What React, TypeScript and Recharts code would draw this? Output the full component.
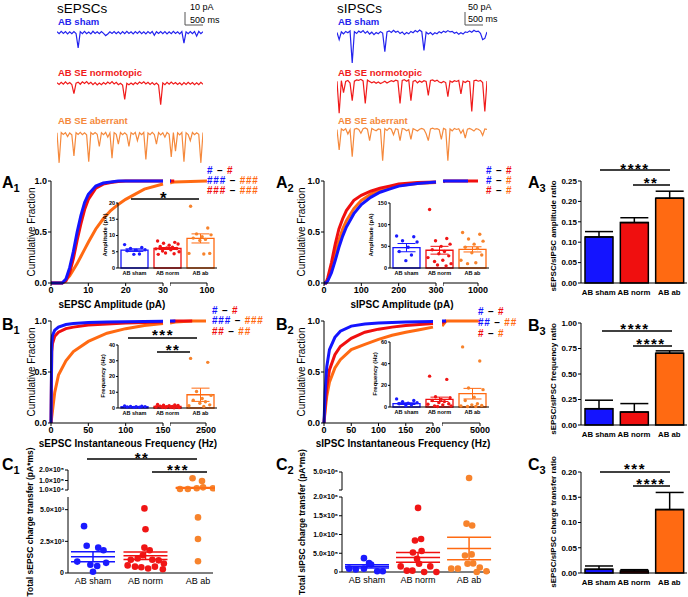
import React from 'react';
import { LineChart, Line, XAxis, YAxis, BarChart, Bar, ComposedChart, Scatter, ErrorBar, Cell } from 'recharts';

const FONT = '"Liberation Sans", Arial, Helvetica, sans-serif';
const BLUE = '#1414ff';
const RED = '#f00f0f';
const ORANGE = '#ff6a12';
const COLS = [BLUE, RED, ORANGE];
const DOTS = ['#1a1aff', '#f01515', '#f7832c'];
const TRACE_COLS = ['#2323ee', '#f01a1a', '#f5893c'];
const CATS = ['AB sham', 'AB norm', 'AB ab'];

// ---------------- example traces (pA) ----------------
const epscSham = [0.8,-0.9,1.1,-0.6,0.9,-1.0,0.7,-0.8,1.0,-0.7,-13,0.9,-0.8,1.1,-0.9,0.6,-1.0,1.2,-0.7,0.8,-0.9,1.0,-0.6,-2.5,-1.1,0.8,-0.7,1.0,-0.9,0.7,-1.0,0.9,-0.8,1.2,-0.6,0.8,-1.0,0.9,-0.7,1.1,-0.8,0.7,-1.1,0.9,-0.6,1.0,-2.2,0.8,-0.7,1.0,-0.8,0.9,-1.0,0.7,-0.9,1.1,-0.6,0.8,-1.0,0.9,-9,0.7,-0.9,1.0,-0.8,0.9,-3,1.1,-0.9,0.8];
const epscNorm = [0.8,-0.6,1.2,-0.4,1.5,-0.2,1.0,-0.7,-8.5,0.5,1.3,-0.5,1.6,0.2,1.8,-0.3,1.2,-0.8,0.9,-1.1,0.6,-0.9,1.0,-0.5,1.4,0.0,1.7,-0.2,1.1,-0.9,0.4,-1.2,-13.5,0.3,-1.0,0.5,-0.8,1.0,-0.4,1.4,0.1,1.6,-0.3,1.2,-0.6,0.9,-0.9,0.6,-1.1,-18,0.7,-0.8,1.1,-0.5,1.3,-0.2,1.0,-0.7,0.8,-1.0,0.9,-0.6,1.2,-0.4,1.0,-0.8,0.7,-0.9,1.1,-0.5];
const epscAb = [0.8,-25,1.0,-0.7,0.9,-2.5,0.6,-0.9,-19,0.8,-0.6,1.1,-0.8,0.7,-1.0,-24,0.9,-0.7,1.0,-0.5,-11,0.8,-0.9,1.1,-3,0.7,-21,0.9,-0.6,-9,1.0,-0.8,0.7,-1.0,-11,0.9,-0.7,1.1,-6,0.8,-0.9,1.0,-22,0.6,-0.8,1.1,-0.7,-9,0.9,-1.0,0.8,-3,1.0,-0.6,-20,0.9,-15,0.7,-1.0,1.1,-24,0.8,-0.7,-6,1.0,-0.9,0.8,-0.6,-25,0.9];
const ipscSham = [2,-25,4,-3,6,1,8,-112,5,-2,7,2,9,-1,6,-4,3,-6,2,-3,5,0,-70,4,8,2,10,3,7,-2,4,-5,2,-3,6,1,9,4,11,5,-65,3,-4,2,-6,1,-3,5,0,7,3,9,4,6,-1,3,-5,1,-4,4,2,8,3,10,5,7,-1,-25,-20,4];
const ipscNorm = [3,-117,5,-40,2,6,-4,-70,3,8,6,10,4,-80,7,2,-3,1,-5,0,-6,-2,3,-4,1,5,2,7,4,-80,6,9,3,8,-70,2,6,-3,4,-1,5,2,-50,6,8,3,7,0,-3,2,-2,-55,4,-1,5,2,6,-45,3,-2,4,1,-110,5,7,3,6,-2,-110,4];
const ipscAb = [2,-75,4,-2,5,-15,1,-100,3,6,2,-12,5,8,3,-40,6,1,-3,4,2,-115,5,-2,7,3,-18,5,2,-40,6,4,-3,2,-35,5,1,-4,3,6,2,-14,-40,4,7,3,5,1,-35,6,2,-115,4,-3,6,2,5,-12,1,-30,3,6,2,-4,5,3,-3,-20,4,2];

// ---------------- cumulative distributions ----------------
// A1 sEPSC amplitude (pA)
const ampEx = [0, 2, 3, 4, 5, 6, 7, 8, 9, 10, 12, 14, 16, 18, 20, 25, 30];
const ampEsham = [0, 0, 0, 0.04, 0.15, 0.31, 0.5, 0.66, 0.79, 0.87, 0.95, 0.98, 0.99, 1, 1, 1, 1];
const ampEnorm = [0, 0, 0, 0.02, 0.1, 0.24, 0.42, 0.58, 0.72, 0.82, 0.93, 0.97, 0.985, 0.995, 1, 1, 1];
const ampEab = [0, 0, 0, 0.03, 0.07, 0.13, 0.19, 0.26, 0.33, 0.4, 0.53, 0.63, 0.71, 0.77, 0.82, 0.92, 0.97];
const ampExR = [30, 32, 38, 100];
const ampEshamR = [1, 1, null, null];
const ampEnormR = [1, 1, 1, null];
const ampEabR = [0.98, 0.985, 0.99, 1];
// A2 sIPSC amplitude (pA)
const ampIx = [0, 5, 10, 20, 30, 40, 50, 60, 80, 100, 125, 150, 175, 200, 250, 300];
const ampIsham = [0, 0, 0.02, 0.1, 0.22, 0.35, 0.46, 0.55, 0.68, 0.77, 0.84, 0.89, 0.92, 0.95, 0.975, 0.99];
const ampInorm = [0, 0, 0.05, 0.2, 0.38, 0.53, 0.63, 0.71, 0.81, 0.86, 0.9, 0.93, 0.95, 0.97, 0.985, 0.99];
const ampIab = [0, 0, 0.03, 0.14, 0.29, 0.42, 0.53, 0.61, 0.73, 0.81, 0.87, 0.91, 0.935, 0.955, 0.975, 0.985];
const ampIxR = [300, 320, 800, 1000];
const ampIshamR = [0.99, 1, 1, null];
const ampInormR = [0.99, 1, 1, 1];
const ampIabR = [0.985, 1, null, null];
// B1 sEPSC instantaneous frequency (Hz)
const frqEx = [0, 1, 2, 5, 10, 20, 30, 50, 75, 100, 125, 150];
const frqEsham = [0, 0.78, 0.86, 0.91, 0.94, 0.965, 0.975, 0.985, 0.99, 0.993, 0.995, 0.997];
const frqEnorm = [0, 0.7, 0.78, 0.85, 0.89, 0.925, 0.94, 0.96, 0.97, 0.98, 0.985, 0.99];
const frqEab = [0, 0.06, 0.12, 0.3, 0.47, 0.61, 0.7, 0.8, 0.88, 0.925, 0.955, 0.975];
const frqExR = [150, 500, 1600, 2500];
const frqEshamR = [1, 1, null, null];
const frqEnormR = [0.995, 1, 1, null];
const frqEabR = [0.98, 0.99, 1, 1];
// B2 sIPSC instantaneous frequency (Hz)
const frqIx = [0, 1, 2, 5, 10, 20, 30, 50, 75, 100, 125, 150, 175, 200];
const frqIsham = [0, 0.15, 0.3, 0.55, 0.72, 0.84, 0.9, 0.95, 0.97, 0.98, 0.985, 0.99, 0.993, 0.995];
const frqInorm = [0, 0.08, 0.16, 0.35, 0.52, 0.67, 0.75, 0.83, 0.89, 0.92, 0.94, 0.955, 0.965, 0.975];
const frqIab = [0, 0.06, 0.12, 0.26, 0.4, 0.54, 0.62, 0.72, 0.77, 0.82, 0.86, 0.89, 0.915, 0.94];
const frqIxR = [200, 700, 5000];
const frqIshamR = [1, 1, null];
const frqInormR = [0.98, 1, null];
const frqIabR = [0.95, 1, 1];

// ---------------- inset per-cell values ----------------
const insAmpE = [[7.2, 6.3, 6.0, 5.6, 5.5, 5.3, 4.3, 4.2], [8.3, 7.9, 7.6, 7.4, 7.0, 6.6, 6.4, 6.2, 6.0, 5.9, 5.6, 5.2, 5.0, 4.6, 4.4, 4.2], [19, 12.3, 10.5, 10.2, 9.6, 9.2, 8.8, 8.5, 4.5, 4.5, 4.3]];
const insAmpEmean = [5.5, 6.0, 9.1];
const insAmpEsem = [0.4, 0.3, 1.4];
const insAmpI = [[74, 72, 63, 60, 48, 38, 30, 17], [135, 68, 63, 55, 50, 42, 38, 33, 28, 24, 18, 15, 10, 7, 5], [82, 78, 67, 62, 55, 48, 45, 35, 30, 18, 12, 10]];
const insAmpImean = [47, 41, 43];
const insAmpIsem = [9.5, 9, 6];
const insFrqE = [[1.3, 1.1, 1.0, 0.9, 0.8, 0.6, 0.5, 0.4], [2.2, 2.0, 1.8, 1.6, 1.4, 1.2, 1.0, 0.9, 0.8, 0.6, 0.5, 0.4, 0.3, 0.3, 0.2], [31.5, 29, 10.5, 8, 6, 5, 4, 3, 2, 1.5, 1]];
const insFrqEmean = [0.8, 1.0, 8.4];
const insFrqEsem = [0.1, 0.15, 4.2];
const insFrqI = [[7.5, 6, 5, 4, 3.5, 3, 2, 1], [28.5, 25.5, 9.5, 8.5, 7, 6, 5, 4, 3, 2.5, 2, 1, 1, 0.5], [55.5, 42.5, 17.5, 16, 9, 6, 3, 2, 1.5, 1, 0.5, 0.5]];
const insFrqImean = [3.1, 7.1, 12.3];
const insFrqIsem = [0.8, 2, 4.9];
const insJit = [-0.3, 0.22, -0.12, 0.32, 0.05, -0.22, 0.15, -0.02, 0.28, -0.35, 0.1, -0.15, 0.35, -0.06, 0.2, -0.28];

// ---------------- ratio bars ----------------
const ampRatioMean = [0.113, 0.148, 0.208];
const ampRatioSem = [0.013, 0.012, 0.017];
const frqRatioMean = [0.16, 0.127, 0.704];
const frqRatioSem = [0.083, 0.083, 0.023];
const chgRatioMean = [0.0073, 0.004, 0.1255];
const chgRatioSem = [0.0066, 0.0026, 0.034];

// ---------------- charge transfer (pA*ms) ----------------
const chgE = [[3700, 2150, 2000, 1800, 900, 650, 550, 800, 100], [5100, 3450, 2000, 1800, 1400, 1150, 1050, 1050, 1000, 750, 600, 500, 500, 450, 350, 300], [121000, 95000, 19000, 19000, 26000, 35000, 26000, 4390, 2690, 930]];
const chgEjit = [[-0.17, -0.12, 0.1, 0.2, -0.3, -0.05, 0.08, 0.25, 0.0], [-0.02, 0.0, -0.02, 0.08, -0.05, -0.15, -0.28, 0.13, 0.25, 0.35, -0.34, -0.2, 0.18, -0.08, 0.05, 0.33], [-0.1, 0.08, -0.34, -0.19, -0.02, 0.1, 0.29, 0, 0, 0]];
const chgEmean = [1280, 1360, 30000];
const chgEsem = [400, 290, 4000];
const chgEupTicks = [10000, 100000, 200000];
const chgEupLabels = ['1.0×10⁴', '1.0×10⁵', '2.0×10⁵'];
const chgEloTicks = [0, 2500, 5000];
const chgEloLabels = ['0', '2.5×10³', '5.0×10³'];
const chgI = [[370000, 240000, 200000, 90000, 70000, 90000, 20000, 20000], [1710000, 840000, 880000, 520000, 560000, 350000, 150000, 150000, 36000, 36000, 0, 0, 220000], [4000000, 1290000, 1240000, 440000, 470000, 220000, 230000, 89000, 89000, 120000, 18000, 0]];
const chgIjit = [[-0.06, 0.04, 0.08, -0.35, -0.22, -0.06, 0.2, 0.31], [0, -0.06, 0.06, -0.1, 0.07, -0.02, 0.24, -0.34, -0.22, -0.11, 0.12, 0.36, 0.02], [0, -0.05, 0.06, -0.08, 0.05, -0.03, 0.08, -0.35, -0.22, 0.21, 0.34, 0.15]];
const chgImean = [150000, 390000, 630000];
const chgIsem = [45000, 130000, 300000];
const chgIupTicks = [2000000, 5000000];
const chgIupLabels = ['', '5.0×10⁶'];
const chgIloTicks = [0, 500000, 1000000, 1500000, 2000000];
const chgIloLabels = ['0', '5.0×10⁵', '1.0×10⁶', '1.5×10⁶', '2.0×10⁶'];

// ---------------- helpers ----------------
const AX = { stroke: '#000', strokeWidth: 1 };
const tk = (s: number, w: any = 700) => ({ fontSize: s, fontWeight: w, fill: '#000', fontFamily: FONT });
const zipRows = (x: number[], a: any[], b: any[], c: any[]) => x.map((v, i) => ({ x: v, sham: a[i], norm: b[i], ab: c[i] }));

function Trace({ x, top, w, h, vals, dom, color }: any) {
  const data = vals.map((v: number, i: number) => ({ i, v }));
  return (
    <div style={{ position: 'absolute', left: x, top }}>
      <LineChart width={w} height={h} data={data} margin={{ top: 0, right: 0, bottom: 0, left: 0 }}>
        <XAxis dataKey="i" type="number" domain={[0, vals.length - 1]} hide />
        <YAxis type="number" domain={dom} hide allowDataOverflow />
        <Line dataKey="v" stroke={color} strokeWidth={1.2} dot={false} isAnimationActive={false} />
      </LineChart>
    </div>
  );
}

function Cdf({ xa, xb, xc, xd, y0, y1, left, right, lTicks, rTicks }: any) {
  const W = 28, T = 4, H = 18, R1 = 11, R2 = 18;
  const order = ['ab', 'norm', 'sham'];
  const col: any = { sham: BLUE, norm: RED, ab: ORANGE };
  const axisProps = { tick: tk(9), tickSize: 3, tickMargin: 1, axisLine: AX, tickLine: AX, interval: 0 as const };
  return (
    <>
      <div style={{ position: 'absolute', left: xa - W, top: y0 - T }}>
        <LineChart width={W + xb - xa + R1} height={T + y1 - y0 + H} data={left} margin={{ top: T, right: R1, bottom: 0, left: 0 }}>
          <XAxis dataKey="x" type="number" domain={[lTicks[0], lTicks[lTicks.length - 1]]} ticks={lTicks} height={H} {...axisProps} />
          <YAxis type="number" domain={[0, 1]} ticks={[0, 0.5, 1]} width={W} {...axisProps} tickFormatter={(v: number) => v.toFixed(1)} />
          {order.map((k) => <Line key={k} type="linear" dataKey={k} stroke={col[k]} strokeWidth={3} dot={false} isAnimationActive={false} />)}
        </LineChart>
      </div>
      <div style={{ position: 'absolute', left: xc, top: y0 - T }}>
        <LineChart width={xd - xc + R2} height={T + y1 - y0 + H} data={right} margin={{ top: T, right: R2, bottom: 0, left: 0 }}>
          <XAxis dataKey="x" type="number" domain={[rTicks[0], rTicks[rTicks.length - 1]]} ticks={rTicks} height={H} {...axisProps} tickFormatter={(v: number) => (v === rTicks[0] ? '' : String(v))} />
          <YAxis type="number" domain={[0, 1]} hide />
          {order.map((k) => <Line key={k} type="linear" dataKey={k} stroke={col[k]} strokeWidth={3} dot={false} isAnimationActive={false} />)}
        </LineChart>
      </div>
    </>
  );
}

function Inset({ x0, x1, y0, y1, dom, ticks, pts, means, sems }: any) {
  const W = 14, T = 3, H = 11, R = 2;
  const data = CATS.map((c, i) => ({ name: c, mean: means[i] }));
  return (
    <div style={{ position: 'absolute', left: x0 - W, top: y0 - T }}>
      <ComposedChart width={W + x1 - x0 + R} height={T + y1 - y0 + H} data={data} margin={{ top: T, right: R, bottom: 0, left: 0 }}>
        <XAxis xAxisId="c" dataKey="name" type="category" height={H} tick={tk(5.5)} tickSize={0} tickMargin={3} axisLine={AX} tickLine={false} interval={0} />
        <XAxis xAxisId="n" dataKey="x" type="number" domain={[-0.5, 2.5]} hide />
        <YAxis type="number" domain={dom} ticks={ticks} interval={0} width={W} tick={tk(5.5)} tickSize={2} tickMargin={1} axisLine={AX} tickLine={AX} />
        <Bar xAxisId="c" dataKey="mean" barSize={27} isAnimationActive={false} strokeWidth={1.3}>
          {COLS.map((c, i) => <Cell key={i} fill="#ffffff" stroke={c} />)}
        </Bar>
        {pts.map((g: number[], gi: number) => (
          <Scatter key={'p' + gi} xAxisId="n" data={g.map((v, j) => ({ x: gi + insJit[j % insJit.length], y: v }))} dataKey="y" isAnimationActive={false}
            shape={(p: any) => <circle cx={p.cx} cy={p.cy} r={1.7} fill={DOTS[gi]} />} />
        ))}
        {means.map((m: number, gi: number) => (
          <Scatter key={'e' + gi} xAxisId="n" data={[{ x: gi, y: m, e: sems[gi] }]} dataKey="y" isAnimationActive={false} shape={() => <g />}>
            <ErrorBar dataKey="e" width={9} stroke={COLS[gi]} strokeWidth={1} direction="y" />
          </Scatter>
        ))}
      </ComposedChart>
    </div>
  );
}

function Ratio({ x0, x1, y0, y1, dom, ticks, means, sems }: any) {
  const W = 26, T = 4, H = 18, R = 1;
  const data = CATS.map((c, i) => ({ name: c, mean: means[i], err: [0, sems[i]] }));
  return (
    <div style={{ position: 'absolute', left: x0 - W, top: y0 - T }}>
      <BarChart width={W + x1 - x0 + R} height={T + y1 - y0 + H} data={data} margin={{ top: T, right: R, bottom: 0, left: 0 }}>
        <XAxis dataKey="name" type="category" interval={0} height={H} tick={tk(7.8)} tickLine={false} tickSize={0} tickMargin={6} axisLine={AX} />
        <YAxis type="number" domain={dom} ticks={ticks} interval={0} width={W} tick={tk(8)} tickSize={3} tickMargin={1} axisLine={AX} tickLine={AX} tickFormatter={(v: number) => v.toFixed(2)} />
        <Bar dataKey="mean" barSize={28} stroke="#000" strokeWidth={1.5} isAnimationActive={false}>
          {COLS.map((c, i) => <Cell key={i} fill={c} />)}
          <ErrorBar dataKey="err" width={14} stroke="#000" strokeWidth={1.5} />
        </Bar>
      </BarChart>
    </div>
  );
}

function CPanel({ x0, x1, up, lo, xDom, vals, jits, means, sems }: any) {
  const W = 40, T = 6, H = 18, R = 2;
  const mk = (seg: any, showX: boolean) => {
    const [d0, d1] = seg.dom;
    const h = T + (seg.y1 - seg.y0) + (showX ? H : 3);
    return (
      <div style={{ position: 'absolute', left: x0 - W, top: seg.y0 - T }}>
        <ComposedChart width={W + x1 - x0 + R} height={h} margin={{ top: T, right: R, bottom: showX ? 0 : 3, left: 0 }}>
          <XAxis type="number" dataKey="x" domain={xDom} ticks={[0, 1, 2]} interval={0} hide={!showX} height={H}
            tickFormatter={(v: number) => CATS[v]} tick={tk(9, 400)} tickLine={false} tickSize={0} tickMargin={5} axisLine={AX} />
          <YAxis type="number" domain={seg.dom} ticks={seg.ticks} interval={0} width={W} tick={tk(7)} tickSize={3} tickMargin={1}
            axisLine={AX} tickLine={AX} tickFormatter={(v: number) => seg.labels[seg.ticks.indexOf(v)]} />
          {vals.map((g: number[], gi: number) => (
            <Scatter key={'p' + gi} data={g.map((v, j) => ({ x: gi + jits[gi][j], y: v })).filter((p) => p.y >= d0 && p.y <= d1)} dataKey="y" isAnimationActive={false}
              shape={(p: any) => <circle cx={p.cx} cy={p.cy} r={3.3} fill={DOTS[gi]} />} />
          ))}
          {means.map((m: number, gi: number) => (m >= d0 && m <= d1 ? (
            <Scatter key={'m' + gi} data={[{ x: gi, y: m, e: sems[gi] }]} dataKey="y" isAnimationActive={false}
              shape={(p: any) => <line x1={p.cx - 22} x2={p.cx + 22} y1={p.cy} y2={p.cy} stroke={COLS[gi]} strokeWidth={1.5} />}>
              <ErrorBar dataKey="e" width={22} stroke={COLS[gi]} strokeWidth={1.5} direction="y" />
            </Scatter>
          ) : null))}
        </ComposedChart>
      </div>
    );
  };
  return <>{mk(up, false)}{mk(lo, true)}</>;
}

// ---------------- annotation helpers ----------------
const Txt = ({ x, y, s = 10, w = 700, c = '#000', a = 'start', r = false, children }: any) => (
  <text x={x} y={y} fontSize={s} fontWeight={w} fill={c} textAnchor={r ? 'middle' : a} fontFamily={FONT}
    dominantBaseline={r ? 'central' : undefined} transform={r ? `rotate(-90 ${x} ${y})` : undefined}>{children}</text>
);
const PL = ({ x, y, L, n }: any) => (
  <text x={x} y={y} fontSize={16} fontWeight={700} fontFamily={FONT}>{L}<tspan fontSize={11} dy={4}>{n}</tspan></text>
);
const Stars = ({ cx, cy, n, x1, x2, ly, s = 15 }: any) => (
  <g>
    <line x1={x1} x2={x2} y1={ly} y2={ly} stroke="#000" strokeWidth={1.5} />
    <text x={cx} y={cy + 0.57 * s} fontSize={s} fontWeight={700} textAnchor="middle" fontFamily={FONT} letterSpacing={1.5}>{'*'.repeat(n)}</text>
  </g>
);
const Hash = ({ x, y, l, lc, r, rc }: any) => (
  <text x={x} y={y + 3.5} fontSize={10} fontWeight={700} fontFamily={FONT} letterSpacing={0.8}>
    <tspan fill={lc}>{l}</tspan><tspan fill="#000"> – </tspan><tspan fill={rc}>{r}</tspan>
  </text>
);

export default function App() {
  return (
    <div style={{ position: 'absolute', left: 0, top: 0, width: 688, height: 597, background: '#fff', overflow: 'hidden', fontFamily: FONT }}>
      {/* traces */}
      <Trace x={57} top={28} w={146} h={35} vals={epscSham} dom={[-26, 4]} color={TRACE_COLS[0]} />
      <Trace x={57} top={79} w={146} h={35} vals={epscNorm} dom={[-26, 4]} color={TRACE_COLS[1]} />
      <Trace x={57} top={129} w={146} h={35} vals={epscAb} dom={[-26, 4]} color={TRACE_COLS[2]} />
      <Trace x={337} top={29} w={150} h={36} vals={ipscSham} dom={[-120, 15]} color={TRACE_COLS[0]} />
      <Trace x={337} top={78} w={150} h={36} vals={ipscNorm} dom={[-120, 15]} color={TRACE_COLS[1]} />
      <Trace x={337} top={126} w={150} h={36} vals={ipscAb} dom={[-120, 15]} color={TRACE_COLS[2]} />

      {/* cumulative plots */}
      <Cdf xa={51} xb={163} xc={170} xd={207} y0={181} y1={283} lTicks={[0, 10, 20, 30]} rTicks={[30, 100]}
        left={zipRows(ampEx, ampEsham, ampEnorm, ampEab)} right={zipRows(ampExR, ampEshamR, ampEnormR, ampEabR)} />
      <Cdf xa={324} xb={436} xc={443} xd={478} y0={181} y1={283} lTicks={[0, 100, 200, 300]} rTicks={[300, 1000]}
        left={zipRows(ampIx, ampIsham, ampInorm, ampIab)} right={zipRows(ampIxR, ampIshamR, ampInormR, ampIabR)} />
      <Cdf xa={51} xb={163} xc={170} xd={206} y0={321} y1={423} lTicks={[0, 50, 100, 150]} rTicks={[150, 2500]}
        left={zipRows(frqEx, frqEsham, frqEnorm, frqEab)} right={zipRows(frqExR, frqEshamR, frqEnormR, frqEabR)} />
      <Cdf xa={324} xb={433} xc={442} xd={480} y0={321} y1={423} lTicks={[0, 50, 100, 150, 200]} rTicks={[200, 5000]}
        left={zipRows(frqIx, frqIsham, frqInorm, frqIab)} right={zipRows(frqIxR, frqIshamR, frqInormR, frqIabR)} />

      {/* insets */}
      <Inset x0={118} x1={217} y0={203} y1={268} dom={[0, 20]} ticks={[0, 5, 10, 15, 20]} pts={insAmpE} means={insAmpEmean} sems={insAmpEsem} />
      <Inset x0={390} x1={489} y0={203} y1={268} dom={[0, 150]} ticks={[0, 50, 100, 150]} pts={insAmpI} means={insAmpImean} sems={insAmpIsem} />
      <Inset x0={118} x1={217} y0={345} y1={408} dom={[0, 40]} ticks={[0, 10, 20, 30, 40]} pts={insFrqE} means={insFrqEmean} sems={insFrqEsem} />
      <Inset x0={390} x1={489} y0={342} y1={407} dom={[0, 60]} ticks={[0, 20, 40, 60]} pts={insFrqI} means={insFrqImean} sems={insFrqIsem} />

      {/* ratio bars */}
      <Ratio x0={581} x1={687} y0={181} y1={283} dom={[0, 0.25]} ticks={[0, 0.05, 0.1, 0.15, 0.2, 0.25]} means={ampRatioMean} sems={ampRatioSem} />
      <Ratio x0={581} x1={687} y0={323} y1={425} dom={[0, 1]} ticks={[0, 0.25, 0.5, 0.75, 1]} means={frqRatioMean} sems={frqRatioSem} />
      <Ratio x0={581} x1={687} y0={472} y1={573} dom={[0, 0.2]} ticks={[0, 0.05, 0.1, 0.15, 0.2]} means={chgRatioMean} sems={chgRatioSem} />

      {/* charge transfer */}
      <CPanel x0={68} x1={213} xDom={[-0.476, 2.286]} vals={chgE} jits={chgEjit} means={chgEmean} sems={chgEsem}
        up={{ y0: 470, y1: 490, dom: [10000, 200000], ticks: chgEupTicks, labels: chgEupLabels }}
        lo={{ y0: 497, y1: 573, dom: [0, 6000], ticks: chgEloTicks, labels: chgEloLabels }} />
      <CPanel x0={342} x1={490} xDom={[-0.49, 2.41]} vals={chgI} jits={chgIjit} means={chgImean} sems={chgIsem}
        up={{ y0: 472, y1: 490, dom: [2000000, 5000000], ticks: chgIupTicks, labels: chgIupLabels }}
        lo={{ y0: 497, y1: 572, dom: [0, 2000000], ticks: chgIloTicks, labels: chgIloLabels }} />

      <svg width={688} height={597} style={{ position: 'absolute', left: 0, top: 0, pointerEvents: 'none' }}>
        {/* trace headers */}
        <Txt x={57} y={13} s={13.5} w={400}>sEPSCs</Txt>
        <Txt x={337} y={13} s={13.5} w={400}>sIPSCs</Txt>
        <Txt x={190} y={10} s={9} w={400}>10 pA</Txt>
        <Txt x={190} y={23} s={9} w={400}>500 ms</Txt>
        <Txt x={468} y={10} s={9} w={400}>50 pA</Txt>
        <Txt x={468} y={22} s={9} w={400}>500 ms</Txt>
        <polyline points="185,12 185,25 203,25" fill="none" stroke="#555" strokeWidth={1} />
        <polyline points="465,12 465,25 483,25" fill="none" stroke="#555" strokeWidth={1} />
        <Txt x={58} y={25} s={9.5} c={TRACE_COLS[0]}>AB sham</Txt>
        <Txt x={58} y={76} s={9.5} c={TRACE_COLS[1]}>AB SE normotopic</Txt>
        <Txt x={58} y={124} s={9.5} c={TRACE_COLS[2]}>AB SE aberrant</Txt>
        <Txt x={338} y={25} s={9.5} c={TRACE_COLS[0]}>AB sham</Txt>
        <Txt x={338} y={76} s={9.5} c={TRACE_COLS[1]}>AB SE normotopic</Txt>
        <Txt x={338} y={124} s={9.5} c={TRACE_COLS[2]}>AB SE aberrant</Txt>

        {/* panel labels */}
        <PL x={2} y={188} L="A" n="1" />
        <PL x={276} y={188} L="A" n="2" />
        <PL x={528} y={188} L="A" n="3" />
        <PL x={2} y={330} L="B" n="1" />
        <PL x={276} y={330} L="B" n="2" />
        <PL x={528} y={331} L="B" n="3" />
        <PL x={2} y={470} L="C" n="1" />
        <PL x={276} y={470} L="C" n="2" />
        <PL x={528} y={470} L="C" n="3" />

        {/* axis titles */}
        <Txt x={31} y={232} s={10} w={400} r>Cumulative Fraction</Txt>
        <Txt x={301} y={232} s={10} w={400} r>Cumulative Fraction</Txt>
        <Txt x={31} y={372} s={10} w={400} r>Cumulative Fraction</Txt>
        <Txt x={301} y={372} s={10} w={400} r>Cumulative Fraction</Txt>
        <Txt x={112} y={308} s={10} a="middle">sEPSC Amplitude (pA)</Txt>
        <Txt x={402} y={308} s={10} a="middle">sIPSC Amplitude (pA)</Txt>
        <Txt x={128} y={447} s={10} a="middle">sEPSC Instantaneous Frequency (Hz)</Txt>
        <Txt x={403} y={447} s={10} a="middle">sIPSC Instantaneous Frequency (Hz)</Txt>
        <Txt x={105} y={235} s={6} r>Amplitude (pA)</Txt>
        <Txt x={371} y={235} s={6} r>Amplitude (pA)</Txt>
        <Txt x={103} y={376} s={6} r>Frequency (Hz)</Txt>
        <Txt x={375} y={374} s={6} r>Frequency (Hz)</Txt>
        <Txt x={553} y={236} s={8} r>sEPSC/sIPSC amplitude ratio</Txt>
        <Txt x={553} y={379} s={8} r>sEPSC/sIPSC frequency ratio</Txt>
        <Txt x={553} y={522} s={8} r>sEPSC/sIPSC charge transfer ratio</Txt>
        <Txt x={30} y={522} s={8.5} r>Total sEPSC charge transfer (pA*ms)</Txt>
        <Txt x={302} y={522} s={8.5} r>Total sIPSC charge transfer (pA*ms)</Txt>

        {/* hash legends */}
        <Hash x={207} y={170} l="#" lc={BLUE} r="#" rc={RED} />
        <Hash x={207} y={180} l="###" lc={BLUE} r="###" rc={ORANGE} />
        <Hash x={207} y={190} l="###" lc={RED} r="###" rc={ORANGE} />
        <Hash x={486} y={170} l="#" lc={BLUE} r="#" rc={RED} />
        <Hash x={486} y={180} l="#" lc={BLUE} r="#" rc={ORANGE} />
        <Hash x={486} y={190} l="#" lc={RED} r="#" rc={ORANGE} />
        <Hash x={212} y={310} l="#" lc={BLUE} r="#" rc={RED} />
        <Hash x={212} y={320.5} l="###" lc={BLUE} r="###" rc={ORANGE} />
        <Hash x={212} y={331} l="##" lc={RED} r="##" rc={ORANGE} />
        <Hash x={478} y={311} l="#" lc={BLUE} r="#" rc={RED} />
        <Hash x={478} y={322} l="##" lc={BLUE} r="##" rc={ORANGE} />
        <Hash x={478} y={333} l="#" lc={RED} r="#" rc={ORANGE} />

        {/* significance */}
        <Stars cx={164} cy={194} n={1} x1={131} x2={199} ly={199} s={17} />
        <Stars cx={163} cy={331} n={3} x1={128} x2={197} ly={338} />
        <Stars cx={173} cy={346} n={2} x1={157} x2={190} ly={352} />
        <Stars cx={635} cy={165} n={4} x1={600} x2={670} ly={170} />
        <Stars cx={651} cy={179} n={2} x1={633} x2={670} ly={185} />
        <Stars cx={635} cy={325} n={4} x1={602} x2={672} ly={331} />
        <Stars cx={651} cy={340} n={4} x1={633} x2={672} ly={346} />
        <Stars cx={635} cy={465} n={3} x1={600} x2={670} ly={472} />
        <Stars cx={651} cy={480} n={4} x1={633} x2={670} ly={486} />
        <Stars cx={142} cy={454} n={2} x1={87} x2={197} ly={459} />
        <Stars cx={178} cy={466} n={3} x1={152} x2={207} ly={472} />
      </svg>
    </div>
  );
}
